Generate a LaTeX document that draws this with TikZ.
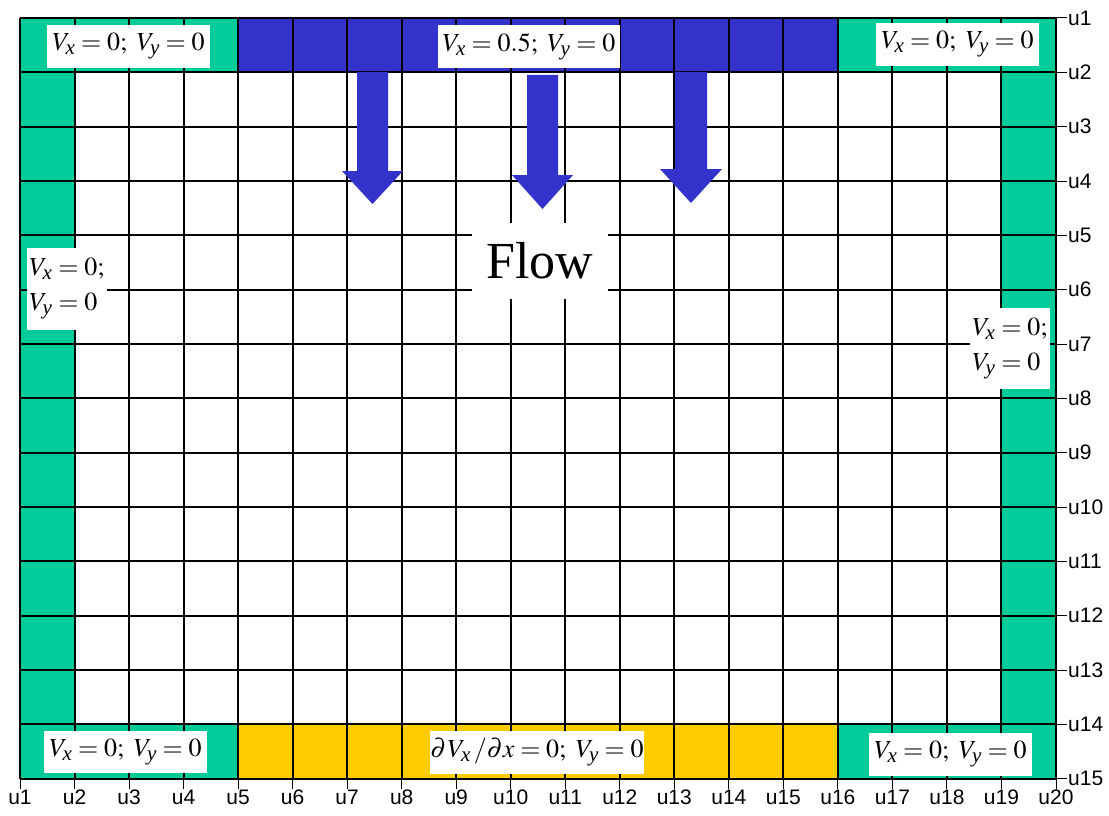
\documentclass[tikz,border=0pt]{standalone}
\usepackage{mathptmx}
\usepackage{fontspec}
\setmainfont{Liberation Serif}
\setsansfont{Liberation Sans}
\newcommand\subit[1]{_{\mbox{\fontsize{21}{21}\selectfont\itshape #1}}}
\definecolor{bcgreen}{RGB}{0,204,153}
\definecolor{bcblue}{RGB}{51,51,204}
\definecolor{bcyellow}{RGB}{255,204,0}
\tikzset{
  gridline/.style={line width=2pt, black},
  lbl/.style={fill=white, inner sep=0pt, font=\fontsize{26}{30}\selectfont},
  lbltwo/.style={fill=white, inner sep=0pt, align=left, font=\fontsize{26}{35}\selectfont},
  flowlbl/.style={fill=white, inner sep=0pt, font=\fontsize{52}{60}\selectfont},
  ticklbl/.style={font=\sffamily\fontsize{21}{24}\selectfont, inner sep=1pt},
  tickmark/.style={line width=1pt, black},
  flowarrow/.style={fill=bcblue, draw=none}
}
\begin{document}
\begin{tikzpicture}[x=1pt,y=-1pt]
\useasboundingbox (0,0) rectangle (1109,816);
% positions
\def\dx{54.526}
\def\dy{54.336}
\pgfmathsetmacro\Xa{20}
\pgfmathsetmacro\Xb{20+\dx}
\pgfmathsetmacro\Xe{20+4*\dx}
\pgfmathsetmacro\Xp{20+15*\dx}
\pgfmathsetmacro\Xs{20+18*\dx}
\pgfmathsetmacro\Xt{20+19*\dx}
\pgfmathsetmacro\Ya{18}
\pgfmathsetmacro\Yb{18+\dy}
\pgfmathsetmacro\Yn{18+13*\dy}
\pgfmathsetmacro\Yo{18+14*\dy}
% fills
\fill[bcgreen] (\Xa,\Ya) rectangle (\Xe,\Yb);
\fill[bcblue] (\Xe,\Ya) rectangle (\Xp,\Yb);
\fill[bcgreen] (\Xp,\Ya) rectangle (\Xt,\Yb);
\fill[bcgreen] (\Xa,\Yn) rectangle (\Xe,\Yo);
\fill[bcyellow] (\Xe,\Yn) rectangle (\Xp,\Yo);
\fill[bcgreen] (\Xp,\Yn) rectangle (\Xt,\Yo);
\fill[bcgreen] (\Xa,\Yb) rectangle (\Xb,\Yn);
\fill[bcgreen] (\Xs,\Yb) rectangle (\Xt,\Yn);
% grid
\foreach \i in {0,...,19}{
  \pgfmathsetmacro\xx{20+\i*\dx}
  \draw[gridline] (\xx,\Ya) -- (\xx,\Yo);
}
\foreach \j in {0,...,14}{
  \pgfmathsetmacro\yy{18+\j*\dy}
  \draw[gridline] (\Xa,\yy) -- (\Xt,\yy);
}
% flow arrows
\fill[flowarrow] (357,72) -- (357,171) -- (342,171) -- (372.5,204) -- (403,171) -- (388,171) -- (388,72) -- cycle;
\fill[flowarrow] (527,75) -- (527,175) -- (512,175) -- (542.5,209) -- (573,175) -- (558,175) -- (558,75) -- cycle;
\fill[flowarrow] (675,72) -- (675,169) -- (660,169) -- (691,203) -- (722,169) -- (707,169) -- (707,72) -- cycle;
% labels
\node[lbl, minimum width=163pt, minimum height=43pt] (tl) at (128.5,46.5) {$V\subit{x} = 0;\ V\subit{y} = 0$};
\node[lbl, minimum width=182pt, minimum height=43pt] (tm) at (529,46.5) {$V\subit{x} = 0.5;\ V\subit{y} = 0$};
\node[lbl, minimum width=163pt, minimum height=43pt] (tr) at (957.5,44.5) {$V\subit{x} = 0;\ V\subit{y} = 0$};
\node[lbl, minimum width=163pt, minimum height=42pt] (bl) at (125.5,752) {$V\subit{x} = 0;\ V\subit{y} = 0$};
\node[lbl, minimum width=214pt, minimum height=43pt] (bm) at (537,752.5) {$\partial\mkern1mu V\subit{x}\,/\partial x = 0;\ V\subit{y} = 0$};
\node[lbl, minimum width=163pt, minimum height=43pt] (br) at (950.5,754.5) {$V\subit{x} = 0;\ V\subit{y} = 0$};
\node[lbltwo, minimum width=80pt, minimum height=82pt] (lm) at (67,289) {$V\subit{x} = 0;$\\$V\subit{y} = 0$};
\node[lbltwo, minimum width=80pt, minimum height=81pt] (rm) at (1010,348.5) {$V\subit{x} = 0;$\\$V\subit{y} = 0$};
\node[flowlbl, minimum width=136pt, minimum height=76pt] (flow) at (540,261) {Flow};
% right ticks
\foreach \j in {1,...,15}{
  \pgfmathsetmacro\yy{18+(\j-1)*\dy}
  \coordinate (rt\j) at (\Xt,\yy);
  \node[ticklbl, anchor=west] (ry\j) at (1067,\yy) {u\j};
  \draw[tickmark] (rt\j) -- (ry\j.west);
}
% bottom ticks
\foreach \i in {1,...,20}{
  \pgfmathsetmacro\xx{20+(\i-1)*\dx}
  \coordinate (bt\i) at (\xx,\Yo);
  \node[ticklbl, anchor=north] (bx\i) at (\xx,789) {u\i};
  \draw[tickmark] (bt\i) -- (bx\i.north);
}
\end{tikzpicture}
\end{document}
